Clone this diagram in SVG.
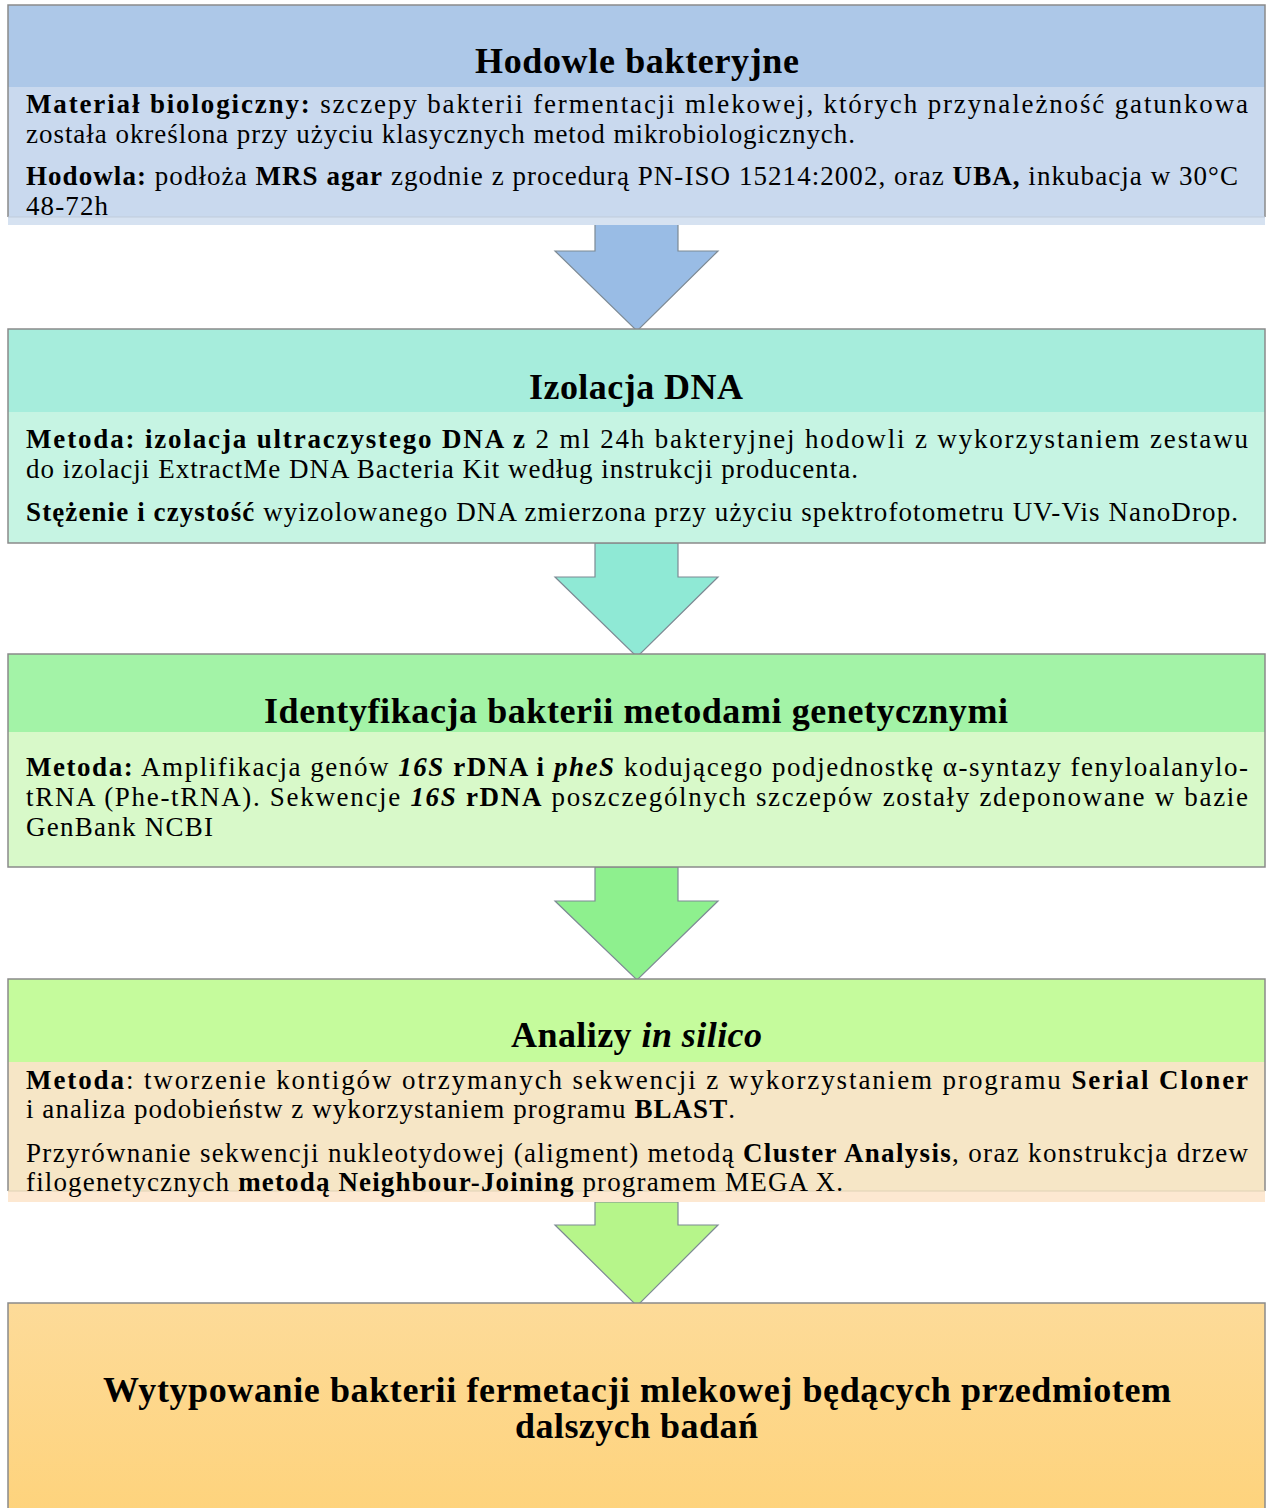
<svg xmlns="http://www.w3.org/2000/svg" width="1267" height="1508" viewBox="0 0 1267 1508" font-family="Liberation Serif, Times New Roman, serif">
<style>
.t{font-size:27px;fill:#000}
.h{font-size:36px;font-weight:bold}
.b{font-weight:bold}
.i{font-style:italic}
.bd{fill:none;stroke:#8a8a8a;stroke-width:1.5}
.ar{stroke:#7d8a94;stroke-width:1.2}
</style>
<defs>
<linearGradient id="g5" x1="0" y1="0" x2="0" y2="1">
<stop offset="0" stop-color="#fddb99"/>
<stop offset="1" stop-color="#fed37c"/>
</linearGradient>
</defs>
<g id="connectors">
<polygon class="ar" fill="#99bce5" points="595,217 678,217 678,251 718,251 637,331 555,251 595,251"/>
<polygon class="ar" fill="#8fe9d5" points="595,543 678,543 678,577 718,577 637,657 555,577 595,577"/>
<polygon class="ar" fill="#8ef08e" points="595,867 678,867 678,901 718,901 637,980 555,901 595,901"/>
<polygon class="ar" fill="#b6f58a" points="595,1202 678,1202 678,1225 718,1225 637,1306 555,1225 595,1225"/>
</g>
<g id="box1">
<rect x="8" y="5" width="1257" height="82" fill="#adc8e8"/>
<rect x="8" y="87" width="1257" height="130" fill="#c9d9ee"/>
<rect x="8" y="217" width="1257" height="8" fill="#d6e2f1"/>
<path class="bd" d="M8,217 V5 H1265 V217"/>
<line x1="8" y1="217" x2="1265" y2="217" stroke="#bfcbdb" stroke-width="1"/>
<text class="t h" x="637" y="73" text-anchor="middle" textLength="324" lengthAdjust="spacing">Hodowle bakteryjne</text>
<text class="t" x="26" y="113" textLength="1222" lengthAdjust="spacing"><tspan class="b">Materiał biologiczny:</tspan> szczepy bakterii fermentacji mlekowej, których przynależność gatunkowa</text>
<text class="t" x="26" y="143" textLength="829" lengthAdjust="spacing">została określona przy użyciu klasycznych metod mikrobiologicznych.</text>
<text class="t" x="26" y="185" textLength="1212" lengthAdjust="spacing"><tspan class="b">Hodowla:</tspan> podłoża <tspan class="b">MRS agar</tspan> zgodnie z procedurą PN-ISO 15214:2002, oraz <tspan class="b">UBA,</tspan> inkubacja w 30°C</text>
<text class="t" x="26" y="215" textLength="82" lengthAdjust="spacing">48-72h</text>
</g>
<g id="box2">
<rect x="8" y="329" width="1257" height="83" fill="#a6eddc"/>
<rect x="8" y="412" width="1257" height="131" fill="#c6f4e3"/>
<rect class="bd" x="8" y="329" width="1257" height="214"/>
<text class="t h" x="636" y="399" text-anchor="middle" textLength="214" lengthAdjust="spacing">Izolacja DNA</text>
<text class="t" x="26" y="448" textLength="1222" lengthAdjust="spacing"><tspan class="b">Metoda: izolacja ultraczystego DNA z</tspan> 2 ml 24h bakteryjnej hodowli z wykorzystaniem zestawu</text>
<text class="t" x="26" y="478" textLength="832" lengthAdjust="spacing">do izolacji ExtractMe DNA Bacteria Kit według instrukcji producenta.</text>
<text class="t" x="26" y="521" textLength="1212" lengthAdjust="spacing"><tspan class="b">Stężenie i czystość</tspan> wyizolowanego DNA zmierzona przy użyciu spektrofotometru UV-Vis NanoDrop.</text>
</g>
<g id="box3">
<rect x="8" y="654" width="1257" height="78" fill="#a3f3a7"/>
<rect x="8" y="732" width="1257" height="135" fill="#d8f9c9"/>
<rect class="bd" x="8" y="654" width="1257" height="213"/>
<text class="t h" x="636" y="723" text-anchor="middle" textLength="744" lengthAdjust="spacing">Identyfikacja bakterii metodami genetycznymi</text>
<text class="t" x="26" y="776" textLength="1222" lengthAdjust="spacing"><tspan class="b">Metoda:</tspan> Amplifikacja genów <tspan class="b i">16S</tspan> <tspan class="b">rDNA i</tspan> <tspan class="b i">pheS</tspan> kodującego podjednostkę α-syntazy fenyloalanylo-</text>
<text class="t" x="26" y="806" textLength="1222" lengthAdjust="spacing">tRNA (Phe-tRNA). Sekwencje <tspan class="b i">16S</tspan> <tspan class="b">rDNA</tspan> poszczególnych szczepów zostały zdeponowane w bazie</text>
<text class="t" x="26" y="836" textLength="187" lengthAdjust="spacing">GenBank NCBI</text>
</g>
<g id="box4">
<rect x="8" y="979" width="1257" height="83" fill="#c5fb9c"/>
<rect x="8" y="1062" width="1257" height="129" fill="#f6e6c6"/>
<rect x="8" y="1191" width="1257" height="11" fill="#fde8d1"/>
<path class="bd" d="M8,1191 V979 H1265 V1191"/>
<line x1="8" y1="1191" x2="1265" y2="1191" stroke="#e0d2b6" stroke-width="1"/>
<text class="t h" x="636.5" y="1047" text-anchor="middle" textLength="251" lengthAdjust="spacing">Analizy <tspan class="i">in silico</tspan></text>
<text class="t" x="26" y="1089" textLength="1222" lengthAdjust="spacing"><tspan class="b">Metoda</tspan>: tworzenie kontigów otrzymanych sekwencji z wykorzystaniem programu <tspan class="b">Serial Cloner</tspan></text>
<text class="t" x="26" y="1118" textLength="709" lengthAdjust="spacing">i analiza podobieństw z wykorzystaniem programu <tspan class="b">BLAST</tspan>.</text>
<text class="t" x="26" y="1162" textLength="1222" lengthAdjust="spacing">Przyrównanie sekwencji nukleotydowej (aligment) metodą <tspan class="b">Cluster Analysis</tspan>, oraz konstrukcja drzew</text>
<text class="t" x="26" y="1191" textLength="817" lengthAdjust="spacing">filogenetycznych <tspan class="b">metodą Neighbour-Joining</tspan> programem MEGA X.</text>
</g>
<g id="box5">
<rect x="8" y="1303" width="1257" height="210" fill="url(#g5)" stroke="#8a8a8a" stroke-width="1.5"/>
<text class="t h" x="637" y="1402" text-anchor="middle" textLength="1068" lengthAdjust="spacing">Wytypowanie bakterii fermetacji mlekowej będących przedmiotem</text>
<text class="t h" x="636.5" y="1438" text-anchor="middle" textLength="243" lengthAdjust="spacing">dalszych badań</text>
</g>
</svg>
